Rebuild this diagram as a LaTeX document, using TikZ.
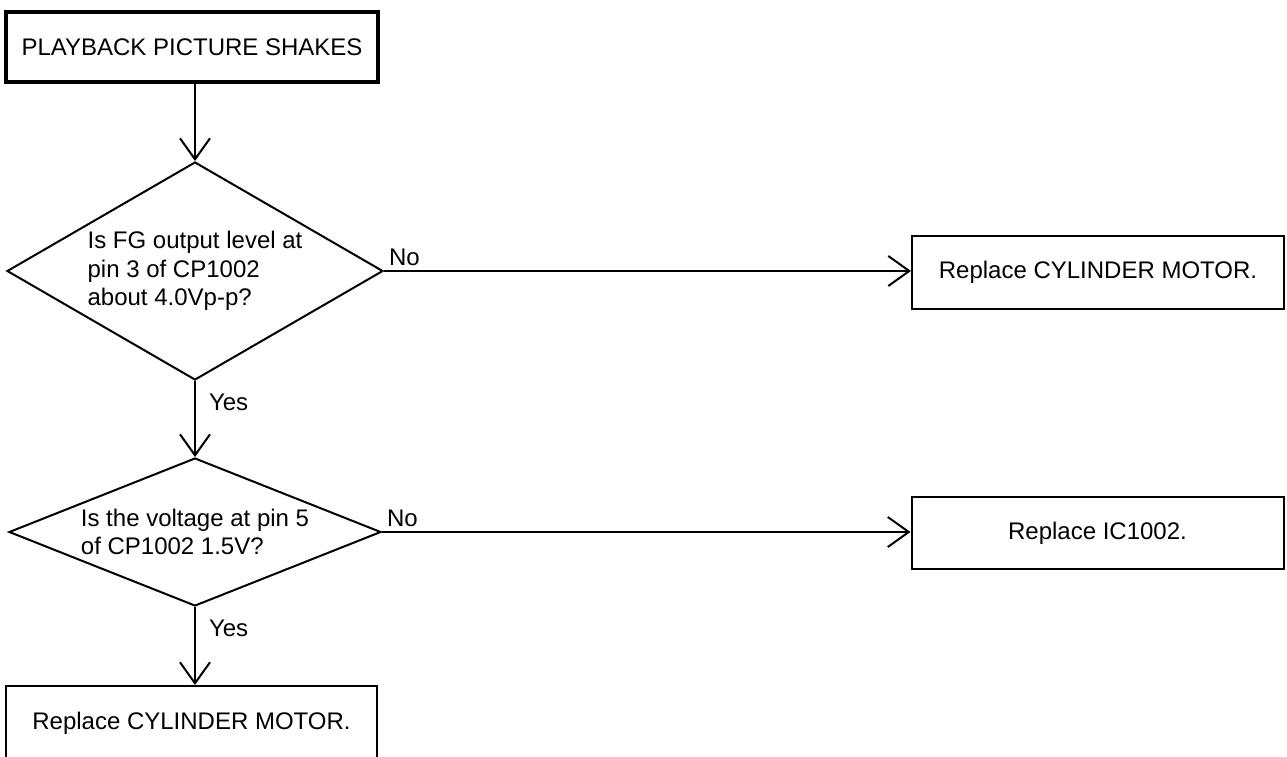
\documentclass[tikz,border=0pt]{standalone}
\usepackage{fontspec}
\setmainfont{Liberation Sans}
\usetikzlibrary{arrows.meta,shapes.geometric}

\tikzset{
  txt/.style={font=\fontsize{24}{28.5}\selectfont},
  startbox/.style={txt, draw, line width=4pt, minimum width=372pt, minimum height=70pt, inner sep=0pt},
  actbox/.style={txt, draw, line width=2pt, minimum width=372pt, minimum height=73pt, inner sep=0pt},
  quest/.style={txt, draw, line width=2pt, shape=diamond, align=left, inner sep=0pt, aspect=1.7},
  flow/.style={line width=2pt, -{Straight Barb[length=21pt,width=30pt]}},
  ans/.style={txt, inner sep=2pt}
}

\begin{document}
\begin{tikzpicture}[x=1pt,y=-1pt]
  \useasboundingbox (0,0) rectangle (1287,756);

  % depart
  \node[startbox] (start) at (192,47) {PLAYBACK PICTURE SHAKES};

  % questions
  \node[quest, minimum width=376pt, minimum height=218pt] (q1) at (195,271)
    {Is FG output level at\\pin 3 of CP1002\\about 4.0Vp-p?};
  \node[quest, minimum width=372pt, minimum height=148pt, aspect=2.5] (q2) at (195,532)
    {Is the voltage at pin 5\\of CP1002 1.5V?};

  % remedes
  \node[actbox] (fix1) at (1098,272.5) {Replace CYLINDER MOTOR.};
  \node[actbox, minimum height=72pt] (fix2) at (1097.5,533) {Replace IC1002.};
  \node[actbox, minimum width=371pt, minimum height=74pt] (fix3) at (191.5,723) {Replace CYLINDER MOTOR.};

  % liaisons
  \draw[flow] (start.south -| q1.north) -- (q1.north);
  \draw[flow] (q1.east) -- (q1.east -| fix1.west) node[ans, pos=0, above right, inner sep=4pt]{No};
  \draw[flow] (q1.south) -- (q2.north) node[ans, pos=0.28, right=11pt]{Yes};
  \draw[flow] (q2.east) -- (q2.east -| fix2.west) node[ans, pos=0, above right, inner sep=4pt]{No};
  \draw[flow] (q2.south) -- (q2.south |- fix3.north) node[ans, pos=0.27, right=11pt]{Yes};
\end{tikzpicture}
\end{document}
